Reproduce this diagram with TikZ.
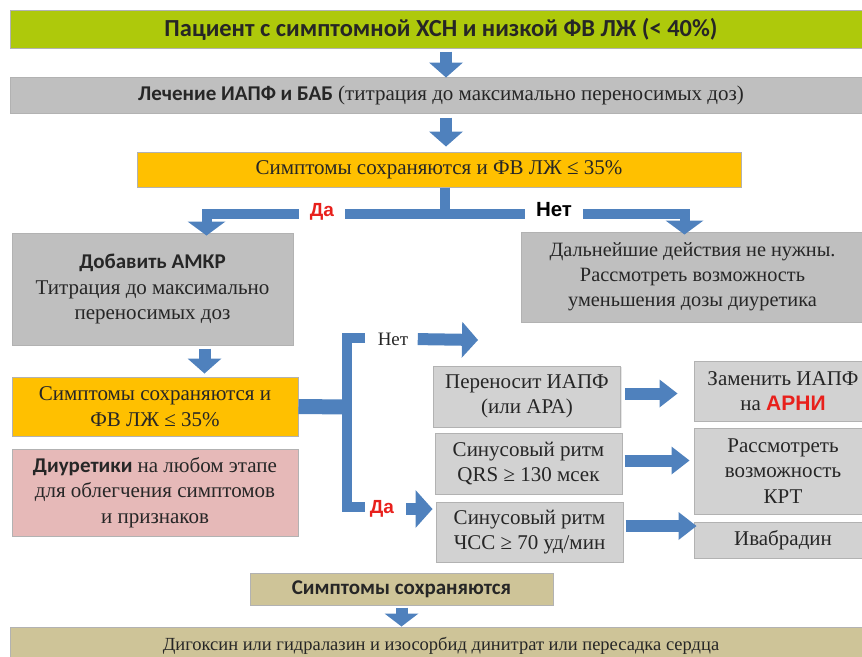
\documentclass[tikz,border=0pt]{standalone}
\usepackage{fontspec}
\setmainfont{Liberation Serif}
\newfontfamily\hdfont{Carlito}
\newfontfamily\arfont{Liberation Sans}
\usepackage{xcolor}
\usetikzlibrary{arrows.meta,
positioning,
shadows,
calc}

\definecolor{greenC}{RGB}{174,201,11}
\definecolor{yelC}{RGB}{255,192,0}
\definecolor{grayC}{RGB}{191,191,191}
\definecolor{lgrayC}{RGB}{210,210,210}
\definecolor{pinkC}{RGB}{230,185,184}
\definecolor{tanC}{RGB}{206,196,152}
\definecolor{blueC}{RGB}{79,129,189}
\definecolor{redC}{RGB}{232,32,28}

\newcommand{\hdtxt}[1]{{\hdfont\bfseries #1}}

\begin{document}
\begin{tikzpicture}[
x=1pt, y=-1pt,
box/.style={
draw=black!30,
line width=1pt,
align=center,
inner sep=0pt,
text=black!85,
drop shadow={shadow xshift=1pt, shadow yshift=-1pt, opacity=.2},
font=\fontsize{21}{25.5}\selectfont
},
topbox/.style={box, fill=greenC, font=\fontsize{24.5}{28}\selectfont},
graybox/.style={box, fill=grayC},
stepbox/.style={box, fill=lgrayC},
yelbox/.style={box, fill=yelC},
pinkbox/.style={box, fill=pinkC},
tanbox/.style={box, fill=tanC},
blk/.style={
draw=blueC,
line width=12pt,
-{Triangle[width=34pt, length=15pt, line width=0pt]}
},
bar/.style={draw=blueC, line width=10pt, line join=miter},
yn/.style={
font=\arfont\bfseries\fontsize{19}{21}\selectfont,
inner xsep=11pt,
inner ysep=2pt
}
]

\useasboundingbox (0,0) rectangle (862,656);
\clip (0,0) rectangle (862,656);

% Top
\node[topbox, minimum width=862pt, minimum height=38pt] (patient) at (441,29)
{\hdtxt{Пациент с симптомной ХСН и низкой ФВ ЛЖ (< 40\%)}};

\node[graybox, minimum width=862pt, minimum height=36pt,
font=\fontsize{21}{24}\selectfont] (treat) at (441,95)
{\hdtxt{Лечение ИАПФ и БАБ} (титрация до максимально переносимых доз)};

\node[yelbox, minimum width=604pt, minimum height=35pt] (sympt) at (439,169.5)
{Симптомы сохраняются и ФВ ЛЖ ≤ 35\%};

% First split
\node[graybox, minimum width=281pt, minimum height=112pt] (amkr) at (152.5,289)
{\hdtxt{Добавить АМКР}\\Титрация до максимально\\переносимых доз};

\node[graybox, minimum width=343pt, minimum height=90pt,
font=\fontsize{20.3}{25}\selectfont] (none) at (692.5,277)
{Дальнейшие действия не нужны.\\Рассмотреть возможность\\уменьшения дозы диуретика};

% Left column
\node[yelbox, minimum width=286pt, minimum height=59pt] (sympttwo) at (155,406.5)
{Симптомы сохраняются и\\ФВ ЛЖ ≤ 35\%};

\node[pinkbox, minimum width=286pt, minimum height=87pt] (diur) at (155,492.5)
{\hdtxt{Диуретики} на любом этапе\\для облегчения симптомов\\и признаков};

% Middle column
\node[stepbox, minimum width=187pt, minimum height=61pt] (tol) at (527,396.5)
{Переносит ИАПФ\\(или АРА)};
\node[stepbox, minimum width=187pt, minimum height=61pt] (qrs) at (528.5,463.5)
{Синусовый ритм\\QRS ≥ 130 мсек};
\node[stepbox, minimum width=187pt, minimum height=60pt] (hr) at (529.5,532)
{Синусовый ритм\\ЧСС ≥ 70 уд/мин};

% Right column
\node[stepbox, minimum width=178pt, minimum height=60pt] (arni) at (783,391)
{Заменить ИАПФ\\на {\arfont\bfseries\color{redC}АРНИ}};
\node[stepbox, minimum width=178pt, minimum height=86pt] (crt) at (783,471)
{Рассмотреть\\возможность\\КРТ};
\node[stepbox, minimum width=178pt, minimum height=36pt] (ivab) at (783,540)
{Ивабрадин};

% Bottom
\node[tanbox, minimum width=303pt, minimum height=32pt,
font=\fontsize{21}{24}\selectfont] (still) at (401.5,589)
{\hdtxt{Симптомы сохраняются}};

\node[tanbox, minimum width=862pt, minimum height=38pt,
font=\fontsize{18.5}{21}\selectfont] (final) at (441,646)
{Дигоксин или гидралазин и изосорбид динитрат или пересадка сердца};

% Connections
\draw[blk, shorten <=3pt, shorten >=-1pt] ([xshift=5pt]patient.south) -- ([xshift=5pt]patient.south |- treat.north);
\draw[blk, shorten <=4pt, shorten >=5pt] ([xshift=5pt]treat.south) -- ([xshift=5pt]treat.south |- sympt.north);

\coordinate (split) at (445,214);
\draw[bar] (sympt.south -| split) -- (split);
\draw[blk, line width=10pt, -{Triangle[width=38pt, length=14pt, line width=0pt]}, shorten >=-3pt]
(split) -| ([xshift=54pt]amkr.north);
\draw[blk, line width=10pt, -{Triangle[width=38pt, length=14pt, line width=0pt]}, shorten >=-3pt]
(split) -| ([xshift=-8pt]none.north);
\node[yn, fill=white, text=redC] (yesone) at (322,212) {Да};
\node[yn, fill=white, font=\arfont\bfseries\fontsize{20.5}{22}\selectfont] (noone) at (554,210) {Нет};

\draw[blk, shorten <=3pt, shorten >=3pt] ([xshift=52pt]amkr.south) -- ([xshift=52pt]amkr.south |- sympttwo.north);

% Bracket
\coordinate (fork) at (347,407);
\coordinate (notop) at (365,338);
\coordinate (yesbot) at (365,507);
\draw[draw=blueC, line width=15pt] (sympttwo.east) -- (fork);
\draw[bar] (notop) -| (fork) |- (yesbot);

\node[font=\fontsize{19}{21}\selectfont, text=black!85] (notwo) at (393,339) {Нет};
\coordinate (noend) at (478,340);
\draw[blk, -{Triangle[width=36pt, length=16pt, line width=0pt]}, shorten <=6pt] (notwo.east) -- (noend);

\node[yn, text=redC, inner xsep=2pt] (yestwo) at (382,509) {Да};
\draw[blk, -{Triangle[width=38pt, length=17pt, line width=0pt]}, shorten <=10pt, shorten >=3pt]
(yestwo.east) -- (yestwo.east -| hr.west);

\draw[blk, -{Triangle[width=28pt, length=18pt, line width=0pt]}, shorten <=4pt, shorten >=16pt]
([yshift=3pt]tol.east) -- ([yshift=3pt]tol.east -| arni.west);
\draw[blk, -{Triangle[width=28pt, length=18pt, line width=0pt]}, shorten <=2pt, shorten >=4pt]
([yshift=3pt]qrs.east) -- ([yshift=3pt]qrs.east -| crt.west);
\draw[blk, -{Triangle[width=28pt, length=18pt, line width=0pt]}, shorten <=2pt, shorten >=-3pt]
([yshift=6pt]hr.east) -- ([yshift=6pt]hr.east -| ivab.west);

\draw[blk, -{Triangle[width=34pt, length=13pt, line width=0pt]}, shorten <=2pt]
(still.south) -- (still.south |- final.north);

\end{tikzpicture}
\end{document}
